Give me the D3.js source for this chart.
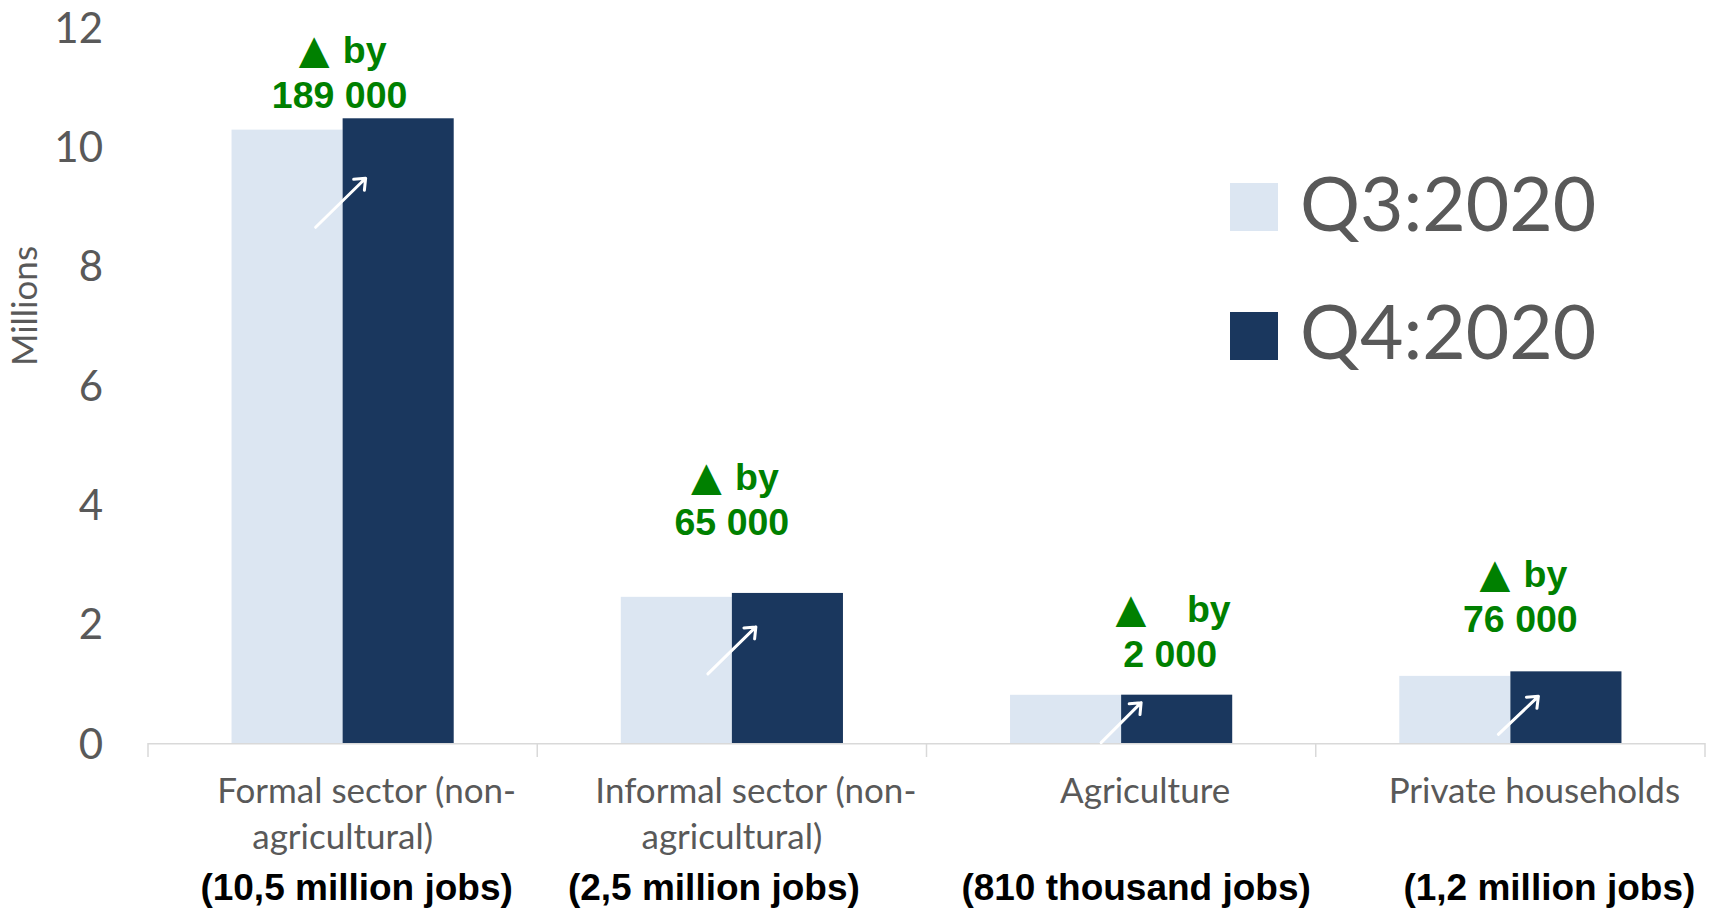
<!DOCTYPE html>
<html><head><meta charset="utf-8">
<script src="https://cdn.jsdelivr.net/npm/d3@7"></script>
<style>
body{margin:0;background:#fff;overflow:hidden}
text{white-space:pre}
</style>
</head><body>
<svg id="chart" width="1717" height="911"></svg>
<script>
// ---------- data ----------
const categories = ["Formal sector (non-agricultural)", "Informal sector (non-agricultural)", "Agriculture", "Private households"];
const categoryLines = [["Formal sector (non-", "agricultural)"], ["Informal sector (non-", "agricultural)"], ["Agriculture"], ["Private households"]];
const series = ["Q3:2020", "Q4:2020"];
const q3Values = [10.28, 2.45, 0.808, 1.125];
const q4Values = [10.47, 2.515, 0.810, 1.201];
const changes = [189000, 65000, 2000, 76000];
const changeWord = [" by", " by", "    by", " by"];
const jobTotals = ["(10,5 million jobs)", "(2,5 million jobs)", "(810 thousand jobs)", "(1,2 million jobs)"];
const yTicks = [0, 2, 4, 6, 8, 10, 12];
const yAxisTitle = "Millions";

// ---------- layout (positions / styles, not data) ----------
const colors = {"Q3:2020": "#dce6f2", "Q4:2020": "#1a375e"};
const grey = "#595959", green = "#008000";
const plot = {left: 148, right: 1705, top: 27, bottom: 743};
// annotation offsets: dx from band centre, dy of 2nd-line baseline from Q4 bar top
const annoOffsets = [{dx: -3, dy: -10}, {dx: 0, dy: -58}, {dx: 49, dy: -28}, {dx: 10, dy: -39}];
const wordGap = [3, 3, -1, 3];
// arrow offsets: relative to band centre (x) and Q4 bar top (y)
const arrowOffsets = [
  {x0: -27, y0: 109, x1: 23, y1: 60},
  {x0: -24, y0: 81, x1: 24, y1: 34},
  {x0: -20, y0: 48, x1: 20, y1: 8},
  {x0: -12, y0: 63, x1: 28, y1: 25}
];
const totalsOffsets = [14, -18, 15, 39];
const firstLineShift = 24;

const svg = d3.select("#chart");

const x = d3.scaleBand().domain(categories).range([plot.left, plot.right]).padding(0);
const xs = d3.scaleBand().domain(series).range([0, x.bandwidth()]).paddingInner(0).paddingOuter(0.752);
const y = d3.scaleLinear().domain([0, 12]).range([plot.bottom, plot.top]);

const rows = categories.map((c, i) => ({cat: c, i, vals: [q3Values[i], q4Values[i]]}));

// bars
const g = svg.append("g");
rows.forEach(r => {
  series.forEach((s, k) => {
    g.append("rect")
      .attr("x", x(r.cat) + xs(s))
      .attr("y", y(r.vals[k]))
      .attr("width", xs.bandwidth())
      .attr("height", y(0) - y(r.vals[k]))
      .attr("fill", colors[s]);
  });
});

// x axis baseline + boundary ticks
svg.append("line")
  .attr("x1", plot.left).attr("x2", plot.right)
  .attr("y1", y(0) + 0.75).attr("y2", y(0) + 0.75)
  .attr("stroke", "#d9d9d9").attr("stroke-width", 1.5);
const bounds = categories.map(c => x(c)).concat([x.range()[1]]);
svg.selectAll(".bt").data(bounds).enter().append("line")
  .attr("x1", d => d).attr("x2", d => d)
  .attr("y1", y(0)).attr("y2", y(0) + 14)
  .attr("stroke", "#d9d9d9").attr("stroke-width", 1.5);

// y axis (labels only)
const yAxis = svg.append("g")
  .attr("transform", `translate(103,0)`)
  .call(d3.axisLeft(y).tickValues(yTicks).tickSize(0).tickPadding(0).tickFormat(d3.format("d")));
yAxis.select(".domain").remove();
yAxis.selectAll("text")
  .attr("font-family", "Lato, sans-serif").attr("font-size", 42)
  .attr("fill", grey).attr("dy", "0.36em");

svg.append("text")
  .attr("transform", "translate(37,306) rotate(-90)")
  .attr("text-anchor", "middle")
  .attr("font-family", "Lato, sans-serif").attr("font-size", 35)
  .attr("fill", grey).text(yAxisTitle);

// category labels
rows.forEach(r => {
  const cx = x(r.cat) + x.bandwidth() / 2;
  const t = svg.append("text")
    .attr("text-anchor", "middle")
    .attr("font-family", "Lato, sans-serif").attr("font-size", 35)
    .attr("fill", grey);
  categoryLines[r.i].forEach((ln, j) => {
    t.append("tspan").attr("x", cx + (j === 0 ? firstLineShift : 0)).attr("y", 803 + j * 46).text(ln);
  });
  svg.append("text")
    .attr("x", cx + totalsOffsets[r.i]).attr("y", 900)
    .attr("text-anchor", "middle")
    .attr("font-family", "'Liberation Sans', Arial, sans-serif").attr("font-weight", "bold")
    .attr("font-size", 37).attr("fill", "#000")
    .text(jobTotals[r.i]);
});

// arrows
const arrowHead = 12;
rows.forEach(r => {
  const o = arrowOffsets[r.i];
  const cx = x(r.cat) + x.bandwidth() / 2;
  const top = y(q4Values[r.i]);
  const x0 = cx + o.x0, y0 = top + o.y0, x1 = cx + o.x1, y1 = top + o.y1;
  const ang = Math.atan2(y1 - y0, x1 - x0);
  const a1 = ang + Math.PI * 0.78, a2 = ang - Math.PI * 0.78;
  const p = d3.path();
  p.moveTo(x0, y0); p.lineTo(x1, y1);
  p.moveTo(x1 + arrowHead * Math.cos(a1), y1 + arrowHead * Math.sin(a1));
  p.lineTo(x1, y1);
  p.lineTo(x1 + arrowHead * Math.cos(a2), y1 + arrowHead * Math.sin(a2));
  svg.append("path").attr("d", p.toString())
    .attr("fill", "none").attr("stroke", "#fff").attr("stroke-width", 3)
    .attr("stroke-linecap", "round").attr("stroke-linejoin", "round");
});

// change annotations
const fmt = v => d3.format(",")(v).replace(/,/g, " ");
rows.forEach(r => {
  const o = annoOffsets[r.i];
  const cx = x(r.cat) + x.bandwidth() / 2 + o.dx;
  const base = y(q4Values[r.i]) + o.dy;
  const t1 = svg.append("text")
    .attr("x", cx + 3).attr("y", base - 45)
    .attr("text-anchor", "middle")
    .attr("font-family", "'Liberation Sans', Arial, sans-serif").attr("font-weight", "bold")
    .attr("font-size", 37.5).attr("fill", green);
  t1.append("tspan").attr("font-family", "'DejaVu Sans'").attr("font-weight", "normal")
    .attr("font-size", 40).text("\u25B2");
  t1.append("tspan").attr("dx", wordGap[r.i]).text(changeWord[r.i]);
  svg.append("text")
    .attr("x", cx).attr("y", base)
    .attr("text-anchor", "middle")
    .attr("font-family", "'Liberation Sans', Arial, sans-serif").attr("font-weight", "bold")
    .attr("font-size", 37.5).attr("fill", green)
    .text(fmt(changes[r.i]));
});

// legend
const legend = svg.append("g");
series.forEach((s, k) => {
  legend.append("rect")
    .attr("x", 1230).attr("y", 183 + k * 129)
    .attr("width", 48).attr("height", 48)
    .attr("fill", colors[s]);
  legend.append("text")
    .attr("x", 1300).attr("y", 231 + k * 128)
    .attr("font-family", "Lato, sans-serif").attr("font-size", 75)
    .attr("fill", grey).text(s);
});
</script>
</body></html>
